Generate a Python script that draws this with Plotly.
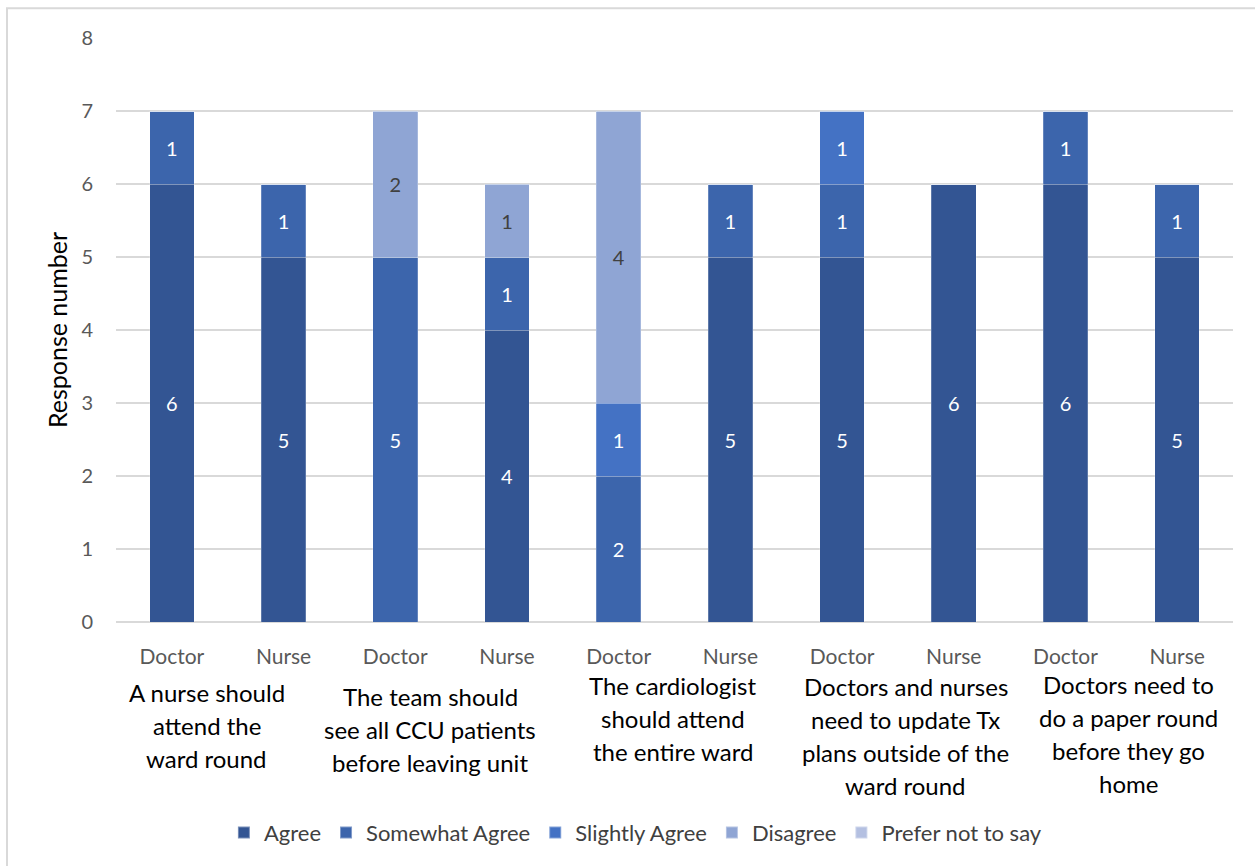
import plotly.graph_objects as go

# Survey responses per statement, split by respondent role
roles = ["Doctor", "Nurse"] * 5
statements = [
    "A nurse should<br>attend the<br>ward round",
    "The team should<br>see all CCU patients<br>before leaving unit",
    "The cardiologist<br>should attend<br>the entire ward",
    "Doctors and nurses<br>need to update Tx<br>plans outside of the<br>ward round",
    "Doctors need to<br>do a paper round<br>before they go<br>home",
]

agree = [6, 5, 0, 4, 0, 5, 5, 6, 6, 5]
somewhat_agree = [1, 1, 5, 1, 2, 1, 1, 0, 1, 1]
slightly_agree = [0, 0, 0, 0, 1, 0, 1, 0, 0, 0]
disagree = [0, 0, 2, 1, 4, 0, 0, 0, 0, 0]
prefer_not = [0, 0, 0, 0, 0, 0, 0, 0, 0, 0]

series = [
    ("Agree", agree, "#335593", "white"),
    ("Somewhat Agree", somewhat_agree, "#3C65AC", "white"),
    ("Slightly Agree", slightly_agree, "#4472C4", "white"),
    ("Disagree", disagree, "#8FA5D4", "#404040"),
    ("Prefer not to say", prefer_not, "#B4C0E1", "#404040"),
]

FONT = "Lato, 'Open Sans', sans-serif"
x = list(range(len(roles)))

fig = go.Figure()
for name, vals, color, tcolor in series:
    fig.add_trace(go.Bar(
        x=x,
        y=vals,
        name=name,
        marker=dict(color=color, line=dict(width=0.6, color="rgba(255,255,255,0.35)")),
        text=[str(v) if v else "" for v in vals],
        textposition="inside",
        insidetextanchor="middle",
        textangle=0,
        textfont=dict(color=tcolor, size=20, family=FONT),
        hoverinfo="name+y",
    ))

# Statement labels under each Doctor/Nurse pair, one annotation per wrapped line
label_xshift = [-21, -21, -2, 8, 7]
label_yshift = [0, -4, 7, 6, 8]
LINE_STEP = 33
for i, label in enumerate(statements):
    for j, line in enumerate(label.split("<br>")):
        fig.add_annotation(
            x=2 * i + 0.5, y=-0.1207, xref="x", yref="paper",
            xshift=label_xshift[i], yshift=label_yshift[i] - LINE_STEP * j,
            text=line, showarrow=False, xanchor="center", yanchor="middle",
            font=dict(size=24, color="#000000", family=FONT),
        )

# Outer chart frame
fig.add_shape(
    type="rect", xref="paper", yref="paper",
    x0=-0.0976, x1=1.05, y0=-0.45, y1=1.051,
    line=dict(color="#D9D9D9", width=2), fillcolor="rgba(0,0,0,0)", layer="below",
)

fig.update_layout(
    barmode="stack",
    bargap=0.6,
    width=1255,
    height=866,
    margin=dict(l=116, r=22, t=38, b=240),
    plot_bgcolor="white",
    paper_bgcolor="white",
    font=dict(family=FONT, color="#595959"),
    uniformtext=dict(minsize=10, mode="show"),
    xaxis=dict(
        range=[-0.5, 9.5],
        tickmode="array",
        tickvals=x,
        ticktext=roles,
        tickfont=dict(size=21, color="#595959", family=FONT),
        showgrid=False,
        zeroline=False,
        showline=False,
        ticks="",
        ticklabelstandoff=20,
    ),
    yaxis=dict(
        range=[0, 8],
        dtick=1,
        tickfont=dict(size=20, color="#595959", family=FONT),
        showgrid=True,
        gridcolor="#D9D9D9",
        gridwidth=1.5,
        zeroline=True,
        zerolinecolor="#D9D9D9",
        zerolinewidth=1.5,
        ticks="",
        ticklabelstandoff=22,
        title=dict(text="Response number", font=dict(size=25, color="#000000", family=FONT), standoff=6),
    ),
    legend=dict(
        orientation="h",
        x=0.465, xanchor="center",
        y=-0.325, yanchor="top",
        font=dict(size=22, color="#404040", family=FONT),
        traceorder="normal",
        itemwidth=30,
        itemsizing="constant",
        tracegroupgap=0,
    ),
    showlegend=True,
)

fig.write_html("out.html")
